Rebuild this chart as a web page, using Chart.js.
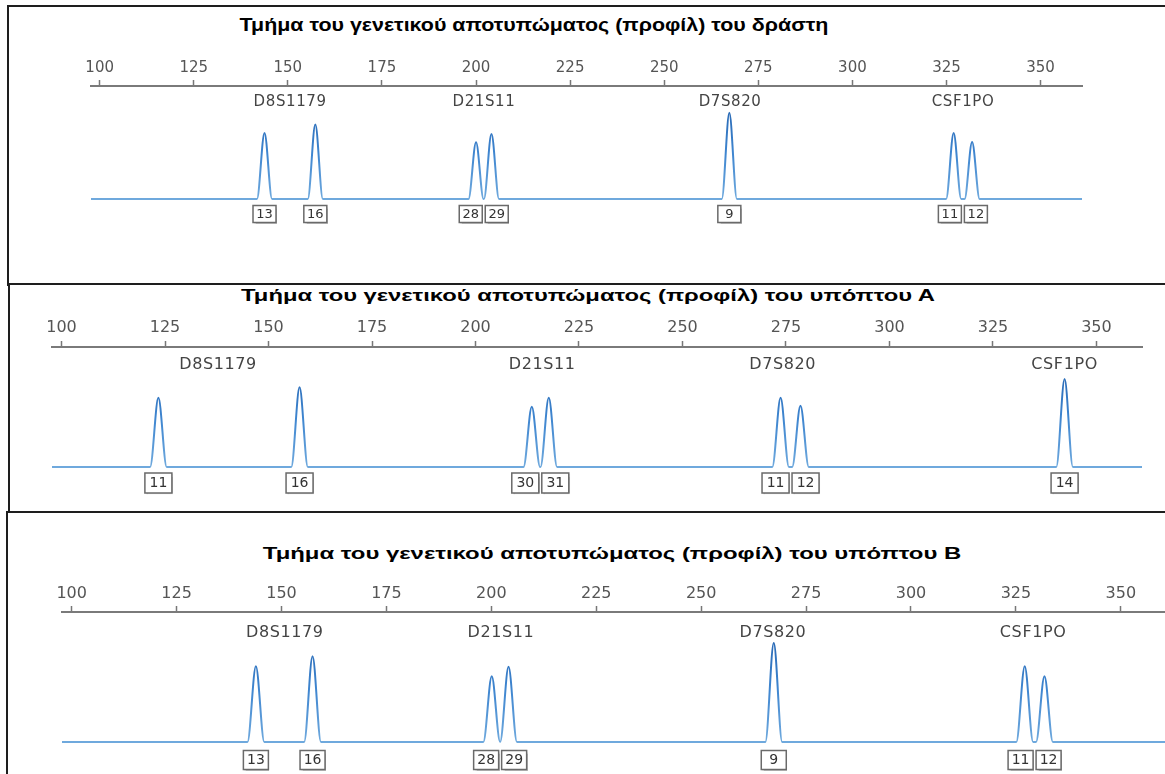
<!DOCTYPE html>
<html lang="el">
<head>
<meta charset="UTF-8">
<title>Γενετικά αποτυπώματα</title>
<script src="https://cdn.jsdelivr.net/npm/chart.js@4"></script>
<style>
  html, body { margin: 0; padding: 0; background: #fff; }
  body { position: relative; width: 1165px; height: 774px; overflow: hidden; font-family: "Liberation Sans", Arial, sans-serif; }
  .frame { position: absolute; right: -20px; border-top: 2px solid #1e1e1e; border-left: 2px solid #1e1e1e; }
  #frame1 { left: 7px; top: 5px; height: 279px; }
  #frame2 { left: 8px; top: 283px; height: 228px; }
  #frame3 { left: 6px; top: 511px; height: 300px; }
  .title { position: absolute; white-space: nowrap; font-weight: bold; color: #000; line-height: 1; }
  canvas { position: absolute; }
</style>
</head>
<body>
  <div class="frame" id="frame1"></div>
  <div class="frame" id="frame2"></div>
  <div class="frame" id="frame3"></div>

  <div class="title" id="title1" style="left:534px; top:25px; font-size:18px">Τμήμα του γενετικού αποτυπώματος (προφίλ) του δράστη</div>
  <div class="title" id="title2" style="left:588px; top:296px; font-size:16px">Τμήμα του γενετικού αποτυπώματος (προφίλ) του υπόπτου Α</div>
  <div class="title" id="title3" style="left:612px; top:553px; font-size:17px">Τμήμα του γενετικού αποτυπώματος (προφίλ) του υπόπτου Β</div>

  <canvas id="chart1" width="1031" height="183" style="left:71px; top:56px"></canvas>
  <canvas id="chart2" width="1130" height="190" style="left:32px; top:317px"></canvas>
  <canvas id="chart3" width="1145" height="200" style="left:42px; top:582px"></canvas>

<script>
// axis (fragment size in bp) and signal scale
const tickValues = [100, 125, 150, 175, 200, 225, 250, 275, 300, 325, 350];
const sizeMin = 97.7;
const sizeMax = 361;
const rfuMax = 2000;
const peakHalfWidth = 2.0;

const markerNames = ['D8S1179', 'D21S11', 'D7S820', 'CSF1PO'];

// δράστης
const perpMarkerPos = [150.6, 202.1, 267.5, 329.4];
const perpAlleles = ['13', '16', '28', '29', '9', '11', '12'];
const perpSizes = [143.8, 157.3, 200.0, 204.1, 267.3, 326.9, 331.8];
const perpHeights = [1170, 1320, 1005, 1150, 1525, 1170, 1010];

// ύποπτος Α
const suspAMarkerPos = [137.8, 216.1, 274.2, 342.3];
const suspAAlleles = ['11', '16', '30', '31', '11', '12', '14'];
const suspASizes = [123.4, 157.5, 213.6, 217.7, 273.7, 278.5, 342.3];
const suspAHeights = [1155, 1328, 1006, 1155, 1155, 1022, 1466];

// ύποπτος Β
const suspBMarkerPos = [150.8, 202.3, 267.1, 329.1];
const suspBAlleles = ['13', '16', '28', '29', '9', '11', '12'];
const suspBSizes = [143.9, 157.4, 200.1, 204.1, 267.3, 327.1, 331.8];
const suspBHeights = [1166, 1319, 1012, 1156, 1525, 1166, 1012];

// electropherogram trace: flat baseline with a spike at every allele
function buildTrace(sizes, heights) {
    const pts = [{ x: sizeMin, y: 0 }];
    sizes.forEach((s, i) => {
        const last = pts[pts.length - 1];
        const lo = s - peakHalfWidth;
        if (i > 0 && last.x > lo) {
            last.x = (sizes[i - 1] + s) / 2;
        } else {
            pts.push({ x: lo, y: 0 });
        }
        pts.push({ x: s, y: heights[i] });
        pts.push({ x: s + peakHalfWidth, y: 0 });
    });
    pts.push({ x: sizeMax, y: 0 });
    return pts;
}

const traceColor = (context) => {
    const { ctx, chartArea } = context.chart;
    if (!chartArea) return '#4d8fd6';
    const g = ctx.createLinearGradient(0, chartArea.bottom, 0, chartArea.top);
    g.addColorStop(0, '#6fa9dd');
    g.addColorStop(0.4, '#3f86d0');
    g.addColorStop(1, '#1d5aa6');
    return g;
};

const profileLabels = {
    id: 'profileLabels',
    afterDatasetsDraw(chart, args, opts) {
        const { ctx, chartArea } = chart;
        const x = chart.scales.x;
        const y = chart.scales.y;
        ctx.save();

        // locus names
        ctx.fillStyle = '#444';
        ctx.font = opts.markerFont + 'px "DejaVu Sans", sans-serif';
        ctx.textAlign = 'center';
        ctx.textBaseline = 'middle';
        ctx.letterSpacing = '0.6px';
        opts.markerPos.forEach((p, i) => {
            ctx.fillText(markerNames[i], x.getPixelForValue(p), chartArea.top + opts.markerDy);
        });
        ctx.letterSpacing = '0px';

        // allele boxes, pushed apart when two peaks sit close together
        const cx = opts.sizes.map(s => x.getPixelForValue(s));
        const minGap = opts.boxW + 3;
        for (let i = 1; i < cx.length; i++) {
            const d = cx[i] - cx[i - 1];
            if (d < minGap) {
                const o = (minGap - d) / 2;
                cx[i - 1] -= o;
                cx[i] += o;
            }
        }
        const by = y.getPixelForValue(0) + opts.boxDy;
        ctx.font = opts.boxFont + 'px "DejaVu Sans", sans-serif';
        cx.forEach((c, i) => {
            const bx = c - opts.boxW / 2;
            const top = by - opts.boxH / 2;
            ctx.shadowColor = 'rgba(0,0,0,0.25)';
            ctx.shadowOffsetX = 1;
            ctx.shadowOffsetY = 1;
            ctx.shadowBlur = 1;
            ctx.fillStyle = '#fff';
            ctx.fillRect(bx, top, opts.boxW, opts.boxH);
            ctx.shadowColor = 'transparent';
            ctx.strokeStyle = '#6a6a6a';
            ctx.lineWidth = 1.5;
            ctx.strokeRect(bx, top, opts.boxW, opts.boxH);
            ctx.fillStyle = '#333';
            ctx.fillText(opts.alleles[i], c, by + 0.5);
        });
        ctx.restore();
    }
};

function makeChart(id, cfg) {
    return new Chart(document.getElementById(id), {
        type: 'line',
        data: {
            datasets: [{
                data: buildTrace(cfg.sizes, cfg.heights),
                borderColor: traceColor,
                borderWidth: 2,
                borderJoinStyle: 'round',
                pointRadius: 0,
                tension: 0.4,
                cubicInterpolationMode: 'monotone',
                fill: false,
                clip: false
            }]
        },
        options: {
            responsive: false,
            animation: false,
            devicePixelRatio: 1,
            events: [],
            layout: { padding: { left: 20, right: 20, top: 0, bottom: cfg.padBottom } },
            plugins: {
                legend: { display: false },
                tooltip: { enabled: false },
                profileLabels: {
                    markerPos: cfg.markerPos,
                    alleles: cfg.alleles,
                    sizes: cfg.sizes,
                    markerFont: cfg.markerFont,
                    markerDy: cfg.markerDy,
                    boxFont: cfg.boxFont,
                    boxW: cfg.boxW,
                    boxH: cfg.boxH,
                    boxDy: cfg.boxDy
                }
            },
            scales: {
                x: {
                    type: 'linear',
                    position: 'top',
                    min: sizeMin,
                    max: sizeMax,
                    afterFit: (scale) => { scale.height = 30; },
                    afterBuildTicks: (scale) => { scale.ticks = tickValues.map(v => ({ value: v })); },
                    grid: { drawOnChartArea: false, tickLength: 6, tickColor: '#777', tickWidth: 1.5 },
                    border: { color: '#7a7a7a', width: 2 },
                    ticks: {
                        font: { family: '"DejaVu Sans", sans-serif', size: cfg.tickFont },
                        color: '#555',
                        padding: cfg.tickPad,
                        maxRotation: 0,
                        autoSkip: false
                    }
                },
                y: { display: false, min: 0, max: rfuMax }
            }
        },
        plugins: [profileLabels]
    });
}

makeChart('chart1', {
    markerPos: perpMarkerPos, alleles: perpAlleles, sizes: perpSizes, heights: perpHeights,
    padBottom: 40, tickFont: 15, tickPad: 3, markerFont: 15, markerDy: 16,
    boxFont: 13, boxW: 23, boxH: 17, boxDy: 15
});
makeChart('chart2', {
    markerPos: suspAMarkerPos, alleles: suspAAlleles, sizes: suspASizes, heights: suspAHeights,
    padBottom: 40, tickFont: 16, tickPad: 4, markerFont: 16, markerDy: 18,
    boxFont: 14, boxW: 27, boxH: 20, boxDy: 16
});
makeChart('chart3', {
    markerPos: suspBMarkerPos, alleles: suspBAlleles, sizes: suspBSizes, heights: suspBHeights,
    padBottom: 40, tickFont: 16, tickPad: 3, markerFont: 16, markerDy: 21,
    boxFont: 14, boxW: 25, boxH: 19, boxDy: 18
});

// titles: stretch to the width they have in the source figure
const titleWidths = { title1: 589, title2: 694, title3: 699 };
Object.keys(titleWidths).forEach(id => {
    const el = document.getElementById(id);
    const k = titleWidths[id] / el.offsetWidth;
    el.style.transform = 'translate(-50%, -50%) scaleX(' + k.toFixed(3) + ')';
});
</script>
</body>
</html>
